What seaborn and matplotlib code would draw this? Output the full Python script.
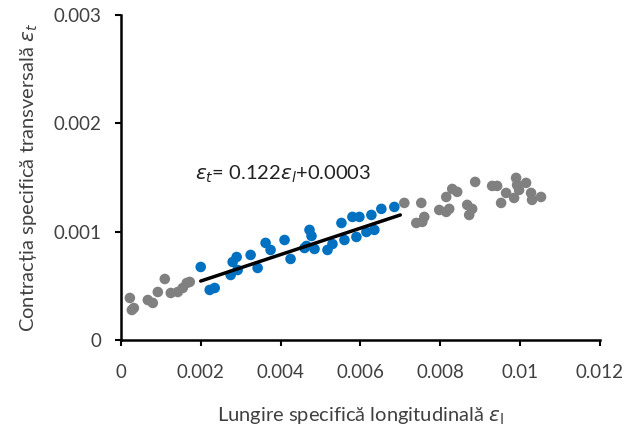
import numpy as np
import pandas as pd
import seaborn as sns
import matplotlib.pyplot as plt

# puncte gri (in afara intervalului de regresie)
gri_x = [0.225, 0.275, 0.325, 0.675, 0.80, 0.925, 1.10, 1.25, 1.425, 1.55, 1.65, 1.725,
         7.10, 7.525, 7.40, 7.55, 7.60, 7.975, 8.15, 8.225, 8.15, 8.30, 8.425, 8.675,
         8.725, 8.80, 8.875, 9.30, 9.425, 9.525, 9.65, 9.85, 9.90, 9.925, 9.975, 10.15,
         10.275, 10.30, 10.525]
gri_y = [0.388, 0.277, 0.295, 0.369, 0.342, 0.443, 0.563, 0.434, 0.443, 0.480, 0.526, 0.536,
         1.265, 1.265, 1.080, 1.090, 1.136, 1.200, 1.182, 1.210, 1.320, 1.394, 1.367, 1.247,
         1.154, 1.210, 1.459, 1.422, 1.422, 1.265, 1.357, 1.311, 1.496, 1.431, 1.385, 1.450,
         1.357, 1.293, 1.320]

# puncte albastre (folosite la regresie)
albastru_x = [2.00, 2.225, 2.35, 2.75, 2.80, 2.90, 2.925, 3.25, 3.425, 3.625, 3.75, 4.10,
              4.25, 4.60, 4.725, 4.775, 4.65, 4.85, 5.175, 5.30, 5.525, 5.60, 5.80, 5.90,
              5.975, 6.15, 6.275, 6.35, 6.525, 6.85]
albastru_y = [0.674, 0.462, 0.480, 0.600, 0.720, 0.766, 0.646, 0.785, 0.665, 0.896, 0.831, 0.923,
              0.748, 0.849, 1.016, 0.960, 0.868, 0.840, 0.831, 0.886, 1.080, 0.923, 1.136, 0.951,
              1.136, 0.997, 1.154, 1.016, 1.210, 1.228]

panta = 0.122
intercept = 0.0003
linie_x = [0.002, 0.007]

df = pd.DataFrame({
    'el': np.array(gri_x + albastru_x) / 1000,
    'et': np.array(gri_y + albastru_y) / 1000,
    'grup': ['gri'] * len(gri_x) + ['albastru'] * len(albastru_x),
})
df_linie = pd.DataFrame({'el': linie_x})
df_linie['et'] = panta * df_linie['el'] + intercept

sns.set_style('ticks')
plt.rcParams['font.family'] = ['Lato', 'Open Sans', 'DejaVu Sans']

fig = plt.figure(figsize=(6.43, 4.34), dpi=100)
ax = fig.add_axes([0.188, 0.2166, 0.745, 0.749])

sns.scatterplot(data=df, x='el', y='et', hue='grup',
                palette={'gri': '#808080', 'albastru': '#0070C0'},
                s=58, edgecolor='none', legend=False, ax=ax)
sns.lineplot(data=df_linie, x='el', y='et', color='black', linewidth=2.5, ax=ax)

ax.text(0.00185, 0.00153, r'$\varepsilon_t$= 0.122$\varepsilon_l$+0.0003',
        fontsize=14.5, color='#222222', va='center')

ax.set_xlim(0, 0.012)
ax.set_ylim(0, 0.003)
ax.set_xticks([0, 0.002, 0.004, 0.006, 0.008, 0.01, 0.012])
ax.set_xticklabels(['0', '0.002', '0.004', '0.006', '0.008', '0.01', '0.012'])
ax.set_yticks([0, 0.001, 0.002, 0.003])
ax.set_yticklabels(['0', '0.001', '0.002', '0.003'])
ax.tick_params(labelsize=13.5, colors='#404040', width=1.5, length=4)
ax.tick_params(axis='x', pad=13, color='black')
ax.tick_params(axis='y', pad=10, color='black')

for s in ['left', 'bottom']:
    ax.spines[s].set_linewidth(1.8)
    ax.spines[s].set_color('black')
sns.despine(ax=ax)

ax.set_xlabel(r'Lungire specifică longitudinală $\varepsilon_{\mathrm{l}}$', fontsize=14.5,
              color='#404040', labelpad=18)
ax.set_ylabel(r'Contracția specifică transversală $\varepsilon_t$', fontsize=14.5,
              color='#404040', labelpad=10)

fig.savefig('out.png', dpi=100)
